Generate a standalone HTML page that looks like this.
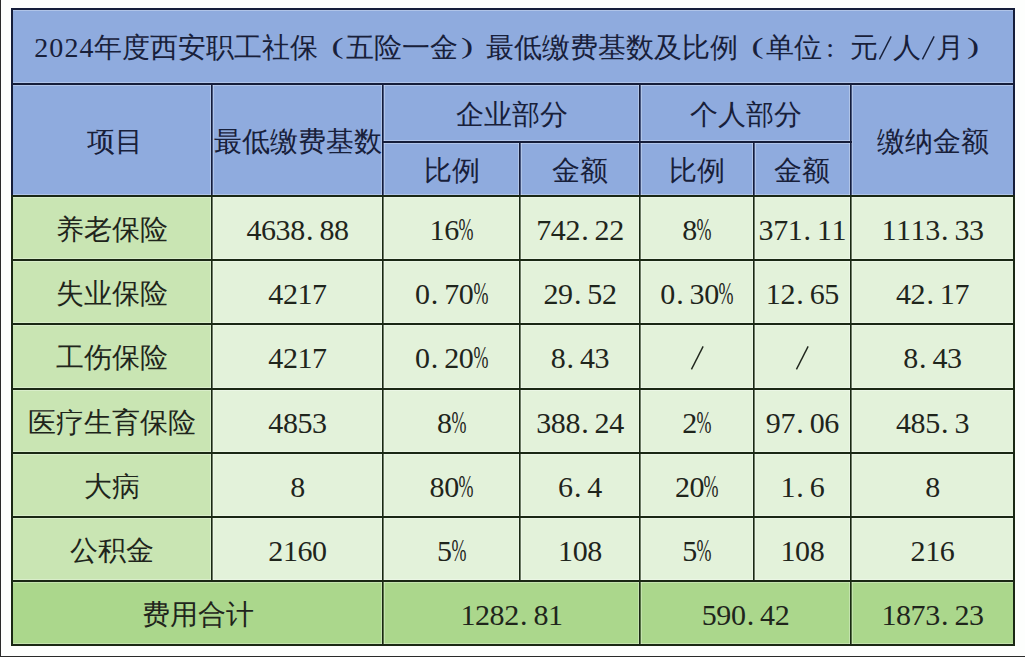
<!DOCTYPE html>
<html><head><meta charset="utf-8"><style>
html,body{margin:0;padding:0;}
body{width:1025px;height:657px;position:relative;overflow:hidden;background:#fdfefd;font-family:"Liberation Serif",serif;color:#1f251c;}
.a{position:absolute;}
.t{position:absolute;display:flex;align-items:center;justify-content:center;white-space:nowrap;font-size:28px;line-height:1;}
.t span{display:block;}
i{font-style:normal;display:inline-block;width:14.6px;text-align:center;font-size:30px;}
i.w{width:29px;font-size:29px;}
i.lp{text-align:right;padding-right:0.22em;box-sizing:border-box;}
i.rp{text-align:left;padding-left:0.22em;box-sizing:border-box;}
i.co{text-align:left;padding-left:0.15em;box-sizing:border-box;}
.title i{width:15.1px;font-size:28px;}
.title i.w{width:28px;}
.title i.rp{padding-left:0.2em;}
i.lp,i.rp{transform:scale(1.3,0.84);transform-origin:50% 10%;}
.title i.lp{padding-right:0.18em;}
i.sl{vertical-align:-3px;}
i.sl svg{display:block;}
i.d{text-align:left;text-indent:0.04em;}
i.p b{font-weight:normal;display:inline-block;width:26px;margin-left:-5.7px;text-align:center;transform:scale(0.6,1.04);}
.hd{color:#18203a;}
</style></head><body>
<div class="a" style="left:0px;top:0px;width:1.00px;height:657.00px;background:#2a2a2a;"></div>
<div class="a" style="left:0px;top:656px;width:1025.00px;height:1.00px;background:#2a2a2a;"></div>
<div class="a" style="left:11px;top:8px;width:1004.00px;height:188.00px;background:#8fabde;"></div>
<div class="a" style="left:11px;top:196px;width:201.00px;height:64.00px;background:#c9e5b3;"></div>
<div class="a" style="left:212px;top:196px;width:803.00px;height:64.00px;background:#e3f2da;"></div>
<div class="a" style="left:11px;top:260px;width:201.00px;height:64.00px;background:#c9e5b3;"></div>
<div class="a" style="left:212px;top:260px;width:803.00px;height:64.00px;background:#e3f2da;"></div>
<div class="a" style="left:11px;top:324px;width:201.00px;height:65.00px;background:#c9e5b3;"></div>
<div class="a" style="left:212px;top:324px;width:803.00px;height:65.00px;background:#e3f2da;"></div>
<div class="a" style="left:11px;top:389px;width:201.00px;height:64.00px;background:#c9e5b3;"></div>
<div class="a" style="left:212px;top:389px;width:803.00px;height:64.00px;background:#e3f2da;"></div>
<div class="a" style="left:11px;top:453px;width:201.00px;height:64.00px;background:#c9e5b3;"></div>
<div class="a" style="left:212px;top:453px;width:803.00px;height:64.00px;background:#e3f2da;"></div>
<div class="a" style="left:11px;top:517px;width:201.00px;height:64.00px;background:#c9e5b3;"></div>
<div class="a" style="left:212px;top:517px;width:803.00px;height:64.00px;background:#e3f2da;"></div>
<div class="a" style="left:11px;top:581px;width:1004.00px;height:65.00px;background:#abd78c;"></div>
<div class="a" style="left:11px;top:7px;width:1004.00px;height:1.00px;background:rgba(255,255,255,0.30);"></div>
<div class="a" style="left:11px;top:10px;width:1004.00px;height:1.00px;background:rgba(255,255,255,0.30);"></div>
<div class="a" style="left:11px;top:643px;width:1004.00px;height:1.00px;background:rgba(255,255,255,0.30);"></div>
<div class="a" style="left:11px;top:646px;width:1004.00px;height:1.00px;background:rgba(255,255,255,0.30);"></div>
<div class="a" style="left:11px;top:82px;width:1004.00px;height:1.00px;background:rgba(255,255,255,0.30);"></div>
<div class="a" style="left:11px;top:85px;width:1004.00px;height:1.00px;background:rgba(255,255,255,0.30);"></div>
<div class="a" style="left:382px;top:140px;width:470.00px;height:1.00px;background:rgba(255,255,255,0.30);"></div>
<div class="a" style="left:382px;top:143px;width:470.00px;height:1.00px;background:rgba(255,255,255,0.30);"></div>
<div class="a" style="left:210px;top:83px;width:1.00px;height:112.00px;background:rgba(255,255,255,0.30);"></div>
<div class="a" style="left:213px;top:83px;width:1.00px;height:112.00px;background:rgba(255,255,255,0.30);"></div>
<div class="a" style="left:381px;top:83px;width:1.00px;height:112.00px;background:rgba(255,255,255,0.30);"></div>
<div class="a" style="left:384px;top:83px;width:1.00px;height:112.00px;background:rgba(255,255,255,0.30);"></div>
<div class="a" style="left:638px;top:83px;width:1.00px;height:112.00px;background:rgba(255,255,255,0.30);"></div>
<div class="a" style="left:641px;top:83px;width:1.00px;height:112.00px;background:rgba(255,255,255,0.30);"></div>
<div class="a" style="left:849px;top:83px;width:1.00px;height:112.00px;background:rgba(255,255,255,0.30);"></div>
<div class="a" style="left:852px;top:83px;width:1.00px;height:112.00px;background:rgba(255,255,255,0.30);"></div>
<div class="a" style="left:518px;top:141px;width:1.00px;height:54.00px;background:rgba(255,255,255,0.30);"></div>
<div class="a" style="left:521px;top:141px;width:1.00px;height:54.00px;background:rgba(255,255,255,0.30);"></div>
<div class="a" style="left:752px;top:141px;width:1.00px;height:54.00px;background:rgba(255,255,255,0.30);"></div>
<div class="a" style="left:755px;top:141px;width:1.00px;height:54.00px;background:rgba(255,255,255,0.30);"></div>
<div class="a" style="left:11px;top:194px;width:1004.00px;height:1.00px;background:rgba(255,255,255,0.30);"></div>
<div class="a" style="left:11px;top:197px;width:1004.00px;height:1.00px;background:rgba(255,255,255,0.30);"></div>
<div class="a" style="left:11px;top:258px;width:1004.00px;height:1.00px;background:rgba(255,255,255,0.30);"></div>
<div class="a" style="left:11px;top:261px;width:1004.00px;height:1.00px;background:rgba(255,255,255,0.30);"></div>
<div class="a" style="left:11px;top:322px;width:1004.00px;height:1.00px;background:rgba(255,255,255,0.30);"></div>
<div class="a" style="left:11px;top:325px;width:1004.00px;height:1.00px;background:rgba(255,255,255,0.30);"></div>
<div class="a" style="left:11px;top:387px;width:1004.00px;height:1.00px;background:rgba(255,255,255,0.30);"></div>
<div class="a" style="left:11px;top:390px;width:1004.00px;height:1.00px;background:rgba(255,255,255,0.30);"></div>
<div class="a" style="left:11px;top:451px;width:1004.00px;height:1.00px;background:rgba(255,255,255,0.30);"></div>
<div class="a" style="left:11px;top:454px;width:1004.00px;height:1.00px;background:rgba(255,255,255,0.30);"></div>
<div class="a" style="left:11px;top:515px;width:1004.00px;height:1.00px;background:rgba(255,255,255,0.30);"></div>
<div class="a" style="left:11px;top:518px;width:1004.00px;height:1.00px;background:rgba(255,255,255,0.30);"></div>
<div class="a" style="left:11px;top:579px;width:1004.00px;height:1.00px;background:rgba(255,255,255,0.30);"></div>
<div class="a" style="left:11px;top:582px;width:1004.00px;height:1.00px;background:rgba(255,255,255,0.30);"></div>
<div class="a" style="left:210px;top:195px;width:1.00px;height:385.00px;background:rgba(255,255,255,0.30);"></div>
<div class="a" style="left:213px;top:195px;width:1.00px;height:385.00px;background:rgba(255,255,255,0.30);"></div>
<div class="a" style="left:381px;top:195px;width:1.00px;height:385.00px;background:rgba(255,255,255,0.30);"></div>
<div class="a" style="left:384px;top:195px;width:1.00px;height:385.00px;background:rgba(255,255,255,0.30);"></div>
<div class="a" style="left:518px;top:195px;width:1.00px;height:385.00px;background:rgba(255,255,255,0.30);"></div>
<div class="a" style="left:521px;top:195px;width:1.00px;height:385.00px;background:rgba(255,255,255,0.30);"></div>
<div class="a" style="left:638px;top:195px;width:1.00px;height:385.00px;background:rgba(255,255,255,0.30);"></div>
<div class="a" style="left:641px;top:195px;width:1.00px;height:385.00px;background:rgba(255,255,255,0.30);"></div>
<div class="a" style="left:752px;top:195px;width:1.00px;height:385.00px;background:rgba(255,255,255,0.30);"></div>
<div class="a" style="left:755px;top:195px;width:1.00px;height:385.00px;background:rgba(255,255,255,0.30);"></div>
<div class="a" style="left:849px;top:195px;width:1.00px;height:385.00px;background:rgba(255,255,255,0.30);"></div>
<div class="a" style="left:852px;top:195px;width:1.00px;height:385.00px;background:rgba(255,255,255,0.30);"></div>
<div class="a" style="left:381px;top:580px;width:1.00px;height:64.00px;background:rgba(255,255,255,0.30);"></div>
<div class="a" style="left:384px;top:580px;width:1.00px;height:64.00px;background:rgba(255,255,255,0.30);"></div>
<div class="a" style="left:638px;top:580px;width:1.00px;height:64.00px;background:rgba(255,255,255,0.30);"></div>
<div class="a" style="left:641px;top:580px;width:1.00px;height:64.00px;background:rgba(255,255,255,0.30);"></div>
<div class="a" style="left:849px;top:580px;width:1.00px;height:64.00px;background:rgba(255,255,255,0.30);"></div>
<div class="a" style="left:852px;top:580px;width:1.00px;height:64.00px;background:rgba(255,255,255,0.30);"></div>
<div class="a" style="left:11px;top:8px;width:1004.00px;height:2.00px;background:#151d3a;"></div>
<div class="a" style="left:11px;top:8px;width:2.00px;height:187.00px;background:#151d3a;"></div>
<div class="a" style="left:11px;top:195px;width:2.00px;height:451.00px;background:#1a2814;"></div>
<div class="a" style="left:1013px;top:8px;width:2.00px;height:187.00px;background:#151d3a;"></div>
<div class="a" style="left:1013px;top:195px;width:2.00px;height:451.00px;background:#1a2814;"></div>
<div class="a" style="left:11px;top:644px;width:1004.00px;height:2.00px;background:#1a2814;"></div>
<div class="a" style="left:11px;top:83px;width:1004.00px;height:2.00px;background:#151d3a;"></div>
<div class="a" style="left:382px;top:141px;width:470.00px;height:2.00px;background:#151d3a;"></div>
<div class="a" style="left:211px;top:83px;width:1.00px;height:112.00px;background:#151d3a;"></div>
<div class="a" style="left:212px;top:83px;width:1.00px;height:112.00px;background:#151d3a;opacity:0.6"></div>
<div class="a" style="left:382px;top:83px;width:1.00px;height:112.00px;background:#151d3a;"></div>
<div class="a" style="left:383px;top:83px;width:1.00px;height:112.00px;background:#151d3a;opacity:0.6"></div>
<div class="a" style="left:639px;top:83px;width:1.00px;height:112.00px;background:#151d3a;"></div>
<div class="a" style="left:640px;top:83px;width:1.00px;height:112.00px;background:#151d3a;opacity:0.6"></div>
<div class="a" style="left:850px;top:83px;width:1.00px;height:112.00px;background:#151d3a;"></div>
<div class="a" style="left:851px;top:83px;width:1.00px;height:112.00px;background:#151d3a;opacity:0.6"></div>
<div class="a" style="left:519px;top:141px;width:1.00px;height:54.00px;background:#151d3a;"></div>
<div class="a" style="left:520px;top:141px;width:1.00px;height:54.00px;background:#151d3a;opacity:0.6"></div>
<div class="a" style="left:753px;top:141px;width:1.00px;height:54.00px;background:#151d3a;"></div>
<div class="a" style="left:754px;top:141px;width:1.00px;height:54.00px;background:#151d3a;opacity:0.6"></div>
<div class="a" style="left:11px;top:195px;width:1004.00px;height:2.00px;background:#1a2814;"></div>
<div class="a" style="left:11px;top:259px;width:1004.00px;height:2.00px;background:#1a2814;"></div>
<div class="a" style="left:11px;top:323px;width:1004.00px;height:2.00px;background:#1a2814;"></div>
<div class="a" style="left:11px;top:388px;width:1004.00px;height:2.00px;background:#1a2814;"></div>
<div class="a" style="left:11px;top:452px;width:1004.00px;height:2.00px;background:#1a2814;"></div>
<div class="a" style="left:11px;top:516px;width:1004.00px;height:2.00px;background:#1a2814;"></div>
<div class="a" style="left:11px;top:580px;width:1004.00px;height:2.00px;background:#1a2814;"></div>
<div class="a" style="left:211px;top:195px;width:1.00px;height:385.00px;background:#1a2814;"></div>
<div class="a" style="left:212px;top:195px;width:1.00px;height:385.00px;background:#1a2814;opacity:0.6"></div>
<div class="a" style="left:382px;top:195px;width:1.00px;height:385.00px;background:#1a2814;"></div>
<div class="a" style="left:383px;top:195px;width:1.00px;height:385.00px;background:#1a2814;opacity:0.6"></div>
<div class="a" style="left:519px;top:195px;width:1.00px;height:385.00px;background:#1a2814;"></div>
<div class="a" style="left:520px;top:195px;width:1.00px;height:385.00px;background:#1a2814;opacity:0.6"></div>
<div class="a" style="left:639px;top:195px;width:1.00px;height:385.00px;background:#1a2814;"></div>
<div class="a" style="left:640px;top:195px;width:1.00px;height:385.00px;background:#1a2814;opacity:0.6"></div>
<div class="a" style="left:753px;top:195px;width:1.00px;height:385.00px;background:#1a2814;"></div>
<div class="a" style="left:754px;top:195px;width:1.00px;height:385.00px;background:#1a2814;opacity:0.6"></div>
<div class="a" style="left:850px;top:195px;width:1.00px;height:385.00px;background:#1a2814;"></div>
<div class="a" style="left:851px;top:195px;width:1.00px;height:385.00px;background:#1a2814;opacity:0.6"></div>
<div class="a" style="left:382px;top:580px;width:1.00px;height:64.00px;background:#1a2814;"></div>
<div class="a" style="left:383px;top:580px;width:1.00px;height:64.00px;background:#1a2814;opacity:0.6"></div>
<div class="a" style="left:639px;top:580px;width:1.00px;height:64.00px;background:#1a2814;"></div>
<div class="a" style="left:640px;top:580px;width:1.00px;height:64.00px;background:#1a2814;opacity:0.6"></div>
<div class="a" style="left:850px;top:580px;width:1.00px;height:64.00px;background:#1a2814;"></div>
<div class="a" style="left:851px;top:580px;width:1.00px;height:64.00px;background:#1a2814;opacity:0.6"></div>
<div class="t hd title" style="left:12px;top:11px;width:1002.00px;height:74.60px;font-size:28px"><span><i>2</i><i>0</i><i>2</i><i>4</i>年度西安职工社保<i class="w lp">(</i>五险一金<i class="w rp">)</i>最低缴费基数及比例<i class="w lp">(</i>单位<i class="w co">:</i>元<i class="sl"><svg width="14.6" height="24" viewBox="0 0 14.6 24"><line x1="1.45" y1="23.4" x2="13.15" y2="0.4" stroke="currentColor" stroke-width="1.4"/></svg></i>人<i class="sl"><svg width="14.6" height="24" viewBox="0 0 14.6 24"><line x1="1.45" y1="23.4" x2="13.15" y2="0.4" stroke="currentColor" stroke-width="1.4"/></svg></i>月<i class="w rp">)</i></span></div>
<div class="t hd" style="left:15px;top:85.6px;width:200.00px;height:112.20px;"><span>项目</span></div>
<div class="t hd" style="left:212px;top:85.6px;width:171.00px;height:112.20px;"><span>最低缴费基数</span></div>
<div class="t hd" style="left:383px;top:85.6px;width:257.00px;height:58.40px;"><span>企业部分</span></div>
<div class="t hd" style="left:640px;top:85.6px;width:211.00px;height:58.40px;"><span>个人部分</span></div>
<div class="t hd" style="left:851px;top:85.6px;width:163.00px;height:112.20px;"><span>缴纳金额</span></div>
<div class="t hd" style="left:383px;top:144px;width:137.00px;height:53.80px;"><span>比例</span></div>
<div class="t hd" style="left:520px;top:144px;width:120.00px;height:53.80px;"><span>金额</span></div>
<div class="t hd" style="left:640px;top:144px;width:113.70px;height:53.80px;"><span>比例</span></div>
<div class="t hd" style="left:753.7px;top:144px;width:97.30px;height:53.80px;"><span>金额</span></div>
<div class="t " style="left:12px;top:197.8px;width:200.00px;height:64.10px;"><span>养老保险</span></div>
<div class="t " style="left:212px;top:197.8px;width:171.00px;height:64.10px;"><span><i>4</i><i>6</i><i>3</i><i>8</i><i class="d">.</i><i>8</i><i>8</i></span></div>
<div class="t " style="left:383px;top:197.8px;width:137.00px;height:64.10px;"><span><i>1</i><i>6</i><i class="p"><b>%</b></i></span></div>
<div class="t " style="left:520px;top:197.8px;width:120.00px;height:64.10px;"><span><i>7</i><i>4</i><i>2</i><i class="d">.</i><i>2</i><i>2</i></span></div>
<div class="t " style="left:640px;top:197.8px;width:113.70px;height:64.10px;"><span><i>8</i><i class="p"><b>%</b></i></span></div>
<div class="t " style="left:753.7px;top:197.8px;width:97.30px;height:64.10px;"><span><i>3</i><i>7</i><i>1</i><i class="d">.</i><i>1</i><i>1</i></span></div>
<div class="t " style="left:851px;top:197.8px;width:163.00px;height:64.10px;"><span><i>1</i><i>1</i><i>1</i><i>3</i><i class="d">.</i><i>3</i><i>3</i></span></div>
<div class="t " style="left:12px;top:261.9px;width:200.00px;height:64.40px;"><span>失业保险</span></div>
<div class="t " style="left:212px;top:261.9px;width:171.00px;height:64.40px;"><span><i>4</i><i>2</i><i>1</i><i>7</i></span></div>
<div class="t " style="left:383px;top:261.9px;width:137.00px;height:64.40px;"><span><i>0</i><i class="d">.</i><i>7</i><i>0</i><i class="p"><b>%</b></i></span></div>
<div class="t " style="left:520px;top:261.9px;width:120.00px;height:64.40px;"><span><i>2</i><i>9</i><i class="d">.</i><i>5</i><i>2</i></span></div>
<div class="t " style="left:640px;top:261.9px;width:113.70px;height:64.40px;"><span><i>0</i><i class="d">.</i><i>3</i><i>0</i><i class="p"><b>%</b></i></span></div>
<div class="t " style="left:753.7px;top:261.9px;width:97.30px;height:64.40px;"><span><i>1</i><i>2</i><i class="d">.</i><i>6</i><i>5</i></span></div>
<div class="t " style="left:851px;top:261.9px;width:163.00px;height:64.40px;"><span><i>4</i><i>2</i><i class="d">.</i><i>1</i><i>7</i></span></div>
<div class="t " style="left:12px;top:326.3px;width:200.00px;height:64.20px;"><span>工伤保险</span></div>
<div class="t " style="left:212px;top:326.3px;width:171.00px;height:64.20px;"><span><i>4</i><i>2</i><i>1</i><i>7</i></span></div>
<div class="t " style="left:383px;top:326.3px;width:137.00px;height:64.20px;"><span><i>0</i><i class="d">.</i><i>2</i><i>0</i><i class="p"><b>%</b></i></span></div>
<div class="t " style="left:520px;top:326.3px;width:120.00px;height:64.20px;"><span><i>8</i><i class="d">.</i><i>4</i><i>3</i></span></div>
<div class="t " style="left:640px;top:326.3px;width:113.70px;height:64.20px;"><span><i class="sl"><svg width="14.6" height="24" viewBox="0 0 14.6 24"><line x1="1.45" y1="23.4" x2="13.15" y2="0.4" stroke="currentColor" stroke-width="1.4"/></svg></i></span></div>
<div class="t " style="left:753.7px;top:326.3px;width:97.30px;height:64.20px;"><span><i class="sl"><svg width="14.6" height="24" viewBox="0 0 14.6 24"><line x1="1.45" y1="23.4" x2="13.15" y2="0.4" stroke="currentColor" stroke-width="1.4"/></svg></i></span></div>
<div class="t " style="left:851px;top:326.3px;width:163.00px;height:64.20px;"><span><i>8</i><i class="d">.</i><i>4</i><i>3</i></span></div>
<div class="t " style="left:12px;top:390.5px;width:200.00px;height:64.00px;"><span>医疗生育保险</span></div>
<div class="t " style="left:212px;top:390.5px;width:171.00px;height:64.00px;"><span><i>4</i><i>8</i><i>5</i><i>3</i></span></div>
<div class="t " style="left:383px;top:390.5px;width:137.00px;height:64.00px;"><span><i>8</i><i class="p"><b>%</b></i></span></div>
<div class="t " style="left:520px;top:390.5px;width:120.00px;height:64.00px;"><span><i>3</i><i>8</i><i>8</i><i class="d">.</i><i>2</i><i>4</i></span></div>
<div class="t " style="left:640px;top:390.5px;width:113.70px;height:64.00px;"><span><i>2</i><i class="p"><b>%</b></i></span></div>
<div class="t " style="left:753.7px;top:390.5px;width:97.30px;height:64.00px;"><span><i>9</i><i>7</i><i class="d">.</i><i>0</i><i>6</i></span></div>
<div class="t " style="left:851px;top:390.5px;width:163.00px;height:64.00px;"><span><i>4</i><i>8</i><i>5</i><i class="d">.</i><i>3</i></span></div>
<div class="t " style="left:12px;top:454.5px;width:200.00px;height:64.10px;"><span>大病</span></div>
<div class="t " style="left:212px;top:454.5px;width:171.00px;height:64.10px;"><span><i>8</i></span></div>
<div class="t " style="left:383px;top:454.5px;width:137.00px;height:64.10px;"><span><i>8</i><i>0</i><i class="p"><b>%</b></i></span></div>
<div class="t " style="left:520px;top:454.5px;width:120.00px;height:64.10px;"><span><i>6</i><i class="d">.</i><i>4</i></span></div>
<div class="t " style="left:640px;top:454.5px;width:113.70px;height:64.10px;"><span><i>2</i><i>0</i><i class="p"><b>%</b></i></span></div>
<div class="t " style="left:753.7px;top:454.5px;width:97.30px;height:64.10px;"><span><i>1</i><i class="d">.</i><i>6</i></span></div>
<div class="t " style="left:851px;top:454.5px;width:163.00px;height:64.10px;"><span><i>8</i></span></div>
<div class="t " style="left:12px;top:518.6px;width:200.00px;height:64.30px;"><span>公积金</span></div>
<div class="t " style="left:212px;top:518.6px;width:171.00px;height:64.30px;"><span><i>2</i><i>1</i><i>6</i><i>0</i></span></div>
<div class="t " style="left:383px;top:518.6px;width:137.00px;height:64.30px;"><span><i>5</i><i class="p"><b>%</b></i></span></div>
<div class="t " style="left:520px;top:518.6px;width:120.00px;height:64.30px;"><span><i>1</i><i>0</i><i>8</i></span></div>
<div class="t " style="left:640px;top:518.6px;width:113.70px;height:64.30px;"><span><i>5</i><i class="p"><b>%</b></i></span></div>
<div class="t " style="left:753.7px;top:518.6px;width:97.30px;height:64.30px;"><span><i>1</i><i>0</i><i>8</i></span></div>
<div class="t " style="left:851px;top:518.6px;width:163.00px;height:64.30px;"><span><i>2</i><i>1</i><i>6</i></span></div>
<div class="t " style="left:12px;top:582.9px;width:371.00px;height:64.10px;"><span>费用合计</span></div>
<div class="t " style="left:383px;top:582.9px;width:257.00px;height:64.10px;"><span><i>1</i><i>2</i><i>8</i><i>2</i><i class="d">.</i><i>8</i><i>1</i></span></div>
<div class="t " style="left:640px;top:582.9px;width:211.00px;height:64.10px;"><span><i>5</i><i>9</i><i>0</i><i class="d">.</i><i>4</i><i>2</i></span></div>
<div class="t " style="left:851px;top:582.9px;width:163.00px;height:64.10px;"><span><i>1</i><i>8</i><i>7</i><i>3</i><i class="d">.</i><i>2</i><i>3</i></span></div>
</body></html>
